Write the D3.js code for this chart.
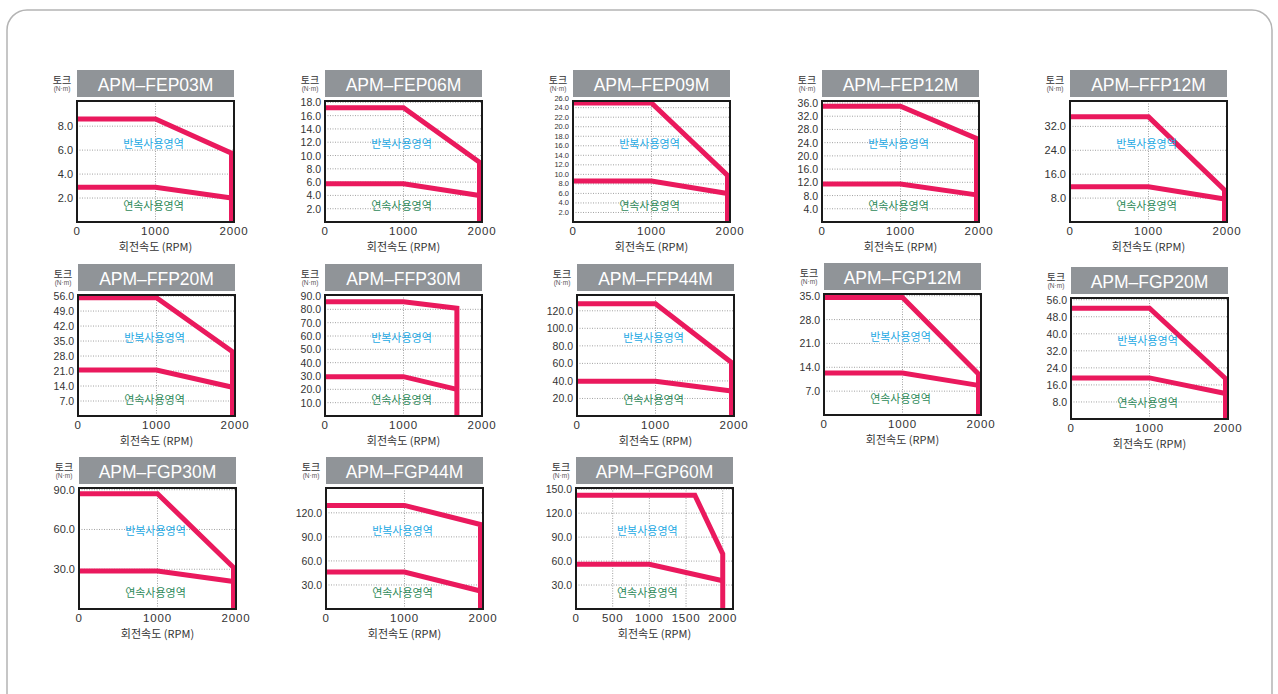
<!DOCTYPE html>
<html>
<head>
<meta charset="utf-8">
<script src="https://cdn.jsdelivr.net/npm/d3@7"></script>
<style>
  body { margin: 0; background: #fff; }
  svg text { font-family: "Liberation Sans", Arial, sans-serif; }
  .ko { font-family: "Noto Sans CJK KR", "Noto Sans", sans-serif; }
</style>
</head>
<body>
<div id="chart"></div>
<script>
// Modelle und Werte
const models = ["APM–FEP03M", "APM–FEP06M", "APM–FEP09M", "APM–FEP12M", "APM–FFP12M",
  "APM–FFP20M", "APM–FFP30M", "APM–FFP44M", "APM–FGP12M", "APM–FGP20M",
  "APM–FGP30M", "APM–FGP44M", "APM–FGP60M"];

const rpmMax = [2000, 2000, 2000, 2000, 2000, 2000, 2000, 2000, 2000, 2000, 2000, 2000, 2140];
const torqueMax = [10.1, 18.2, 25.4, 36.6, 40.5, 56.5, 90.75, 138, 35.5, 56.8, 91.3, 151, 151.5];

const torqueTicks = [
  [2, 4, 6, 8],
  [2, 4, 6, 8, 10, 12, 14, 16, 18],
  [2, 4, 6, 8, 10, 12, 14, 16, 18, 20, 22, 24, 26],
  [4, 8, 12, 16, 20, 24, 28, 32, 36],
  [8, 16, 24, 32],
  [7, 14, 21, 28, 35, 42, 49, 56],
  [10, 20, 30, 40, 50, 60, 70, 80, 90],
  [20, 40, 60, 80, 100, 120],
  [7, 14, 21, 28, 35],
  [8, 16, 24, 32, 40, 48, 56],
  [30, 60, 90],
  [30, 60, 90, 120],
  [30, 60, 90, 120, 150]
];

const rpmTicks = [
  [0, 1000, 2000], [0, 1000, 2000], [0, 1000, 2000], [0, 1000, 2000], [0, 1000, 2000],
  [0, 1000, 2000], [0, 1000, 2000], [0, 1000, 2000], [0, 1000, 2000], [0, 1000, 2000],
  [0, 1000, 2000], [0, 1000, 2000], [0, 500, 1000, 1500, 2000]
];

// 반복사용영역 (Spitzenmoment), inkl. senkrechter Abfall auf 0
const repRpm = [
  [0, 1000, 2000, 2000], [0, 1000, 2000, 2000], [0, 1000, 2000, 2000], [0, 1000, 2000, 2000],
  [0, 1000, 2000, 2000], [0, 1000, 2000, 2000], [0, 1000, 1680, 1680], [0, 1000, 2000, 2000],
  [0, 1000, 2000, 2000], [0, 1000, 2000, 2000], [0, 1000, 2000, 2000], [0, 1000, 2000, 2000],
  [0, 1620, 2000, 2000]
];
const repTorque = [
  [8.6, 8.6, 5.75, 0], [17.2, 17.2, 9.0, 0], [25.0, 25.0, 9.8, 0], [35.0, 35.0, 25.3, 0],
  [35.2, 35.2, 10.7, 0], [55.2, 55.2, 30.0, 0], [85.7, 85.7, 80.8, 0], [128, 128, 61, 0],
  [34.5, 34.5, 12.0, 0], [52.0, 52.0, 19.0, 0], [87, 87, 31.3, 0], [129.3, 129.3, 105.5, 0],
  [142.5, 142.5, 69, 0]
];

// 연속사용영역 (Dauermoment)
const contRpm = [
  [0, 1000, 2000], [0, 1000, 2000], [0, 1000, 2000], [0, 1000, 2000], [0, 1000, 2000],
  [0, 1000, 2000], [0, 1000, 1680], [0, 1000, 2000], [0, 1000, 2000], [0, 1000, 2000],
  [0, 1000, 2000], [0, 1000, 2000], [0, 1000, 2000]
];
const contTorque = [
  [2.9, 2.9, 2.0], [5.75, 5.75, 4.0], [8.6, 8.6, 6.0], [11.5, 11.5, 8.2], [11.8, 11.8, 7.7],
  [21.5, 21.5, 13.4], [29.5, 29.5, 20.0], [39.5, 39.5, 28.5], [12.3, 12.3, 8.7], [19.3, 19.3, 12.0],
  [28.7, 28.7, 20.7], [46.2, 46.2, 22.5], [55.9, 55.9, 35.3]
];

// Layout
const width = 1278;
const height = 694;
const frameW = 157;
const frameH = 121;
const panelX = [77, 325, 573, 822, 1070, 78, 325, 577, 824, 1071, 79, 326, 576];
const panelY = [101, 101, 101, 101, 101, 295, 295, 295, 294, 298, 488, 488, 488];
const tickFont = [11, 10.5, 7.5, 10.5, 11, 10.5, 10.5, 10.5, 10.5, 10.5, 11, 10.5, 10.5];

const pink = "#ea195d";

const svg = d3.select("#chart").append("svg")
  .attr("width", width)
  .attr("height", height);

// äußerer Rahmen
svg.append("rect")
  .attr("x", 7)
  .attr("y", 10)
  .attr("width", 1265)
  .attr("height", 720)
  .attr("rx", 20)
  .style("fill", "none")
  .style("stroke", "#b4b4b4")
  .style("stroke-width", 1.5);

const fmt = d3.format(".1f");

models.forEach((model, i) => {
  const g = svg.append("g").attr("transform", `translate(${panelX[i]},${panelY[i]})`);

  const x = d3.scaleLinear().domain([0, rpmMax[i]]).range([0, frameW]);
  const y = d3.scaleLinear().domain([0, torqueMax[i]]).range([frameH, 0]);

  // Gitterlinien
  g.selectAll(".hgrid")
    .data(torqueTicks[i].filter(t => y(t) > 1))
    .join("line")
    .attr("x1", 0).attr("x2", frameW)
    .attr("y1", d => y(d)).attr("y2", d => y(d))
    .style("stroke", "#8a8a8a")
    .style("stroke-width", 0.8)
    .style("stroke-dasharray", "1,1.5");

  g.selectAll(".vgrid")
    .data(rpmTicks[i].filter(t => t > 0 && x(t) < frameW - 1))
    .join("line")
    .attr("x1", d => x(d)).attr("x2", d => x(d))
    .attr("y1", 0).attr("y2", frameH)
    .style("stroke", "#8a8a8a")
    .style("stroke-width", 0.8)
    .style("stroke-dasharray", "1,1.5");

  // Kurven (am rechten Rand um halbe Linienbreite nach innen)
  const px = v => Math.min(x(v), frameW - 2.5);
  const line = d3.line().x(d => px(d[0])).y(d => y(d[1]));

  g.append("path")
    .attr("d", line(d3.zip(contRpm[i], contTorque[i])))
    .style("fill", "none")
    .style("stroke", pink)
    .style("stroke-width", 5)
    .style("stroke-linejoin", "miter");

  g.append("path")
    .attr("d", line(d3.zip(repRpm[i], repTorque[i])))
    .style("fill", "none")
    .style("stroke", pink)
    .style("stroke-width", 5)
    .style("stroke-linejoin", "miter");

  // Rahmen
  g.append("rect")
    .attr("width", frameW)
    .attr("height", frameH)
    .style("fill", "none")
    .style("stroke", "#1a1a1a")
    .style("stroke-width", 2);

  // Bereichsbeschriftungen
  g.append("text")
    .attr("class", "ko")
    .attr("x", x(1000) - 2)
    .attr("y", 42)
    .attr("text-anchor", "middle")
    .attr("dominant-baseline", "central")
    .text("반복사용영역")
    .style("font-size", "11px")
    .style("fill", "#25a9e3");

  g.append("text")
    .attr("class", "ko")
    .attr("x", x(1000) - 2)
    .attr("y", 104)
    .attr("text-anchor", "middle")
    .attr("dominant-baseline", "central")
    .text("연속사용영역")
    .style("font-size", "11px")
    .style("fill", "#2e8a5a");

  // y-Achse
  g.selectAll(".ylab")
    .data(torqueTicks[i])
    .join("text")
    .attr("x", -4)
    .attr("y", d => y(d))
    .attr("text-anchor", "end")
    .attr("dominant-baseline", "central")
    .text(d => fmt(d))
    .style("font-size", tickFont[i] + "px")
    .style("fill", "#333");

  // x-Achse
  g.selectAll(".xlab")
    .data(rpmTicks[i])
    .join("text")
    .attr("x", d => x(d))
    .attr("y", frameH + 13)
    .attr("text-anchor", "middle")
    .text(d => d)
    .style("font-size", "11.5px")
    .style("letter-spacing", "0.8px")
    .style("fill", "#333");

  g.append("text")
    .attr("class", "ko")
    .attr("x", frameW / 2)
    .attr("y", frameH + 29)
    .attr("text-anchor", "middle")
    .text("회전속도 (RPM)")
    .style("font-size", "11px")
    .style("fill", "#333");

  // Titel
  g.append("rect")
    .attr("x", 0)
    .attr("y", -31)
    .attr("width", frameW)
    .attr("height", 27)
    .style("fill", "#909498");

  g.append("text")
    .attr("x", frameW / 2)
    .attr("y", -10)
    .attr("text-anchor", "middle")
    .text(model)
    .style("font-size", "17.5px")
    .style("fill", "#fff");

  g.append("text")
    .attr("class", "ko")
    .attr("x", -15)
    .attr("y", -22)
    .attr("text-anchor", "middle")
    .attr("dominant-baseline", "central")
    .text("토크")
    .style("font-size", "10px")
    .style("fill", "#333");

  g.append("text")
    .attr("x", -15)
    .attr("y", -13)
    .attr("text-anchor", "middle")
    .attr("dominant-baseline", "central")
    .text("(N·m)")
    .style("font-size", "6.5px")
    .style("fill", "#555");
});
</script>
</body>
</html>
